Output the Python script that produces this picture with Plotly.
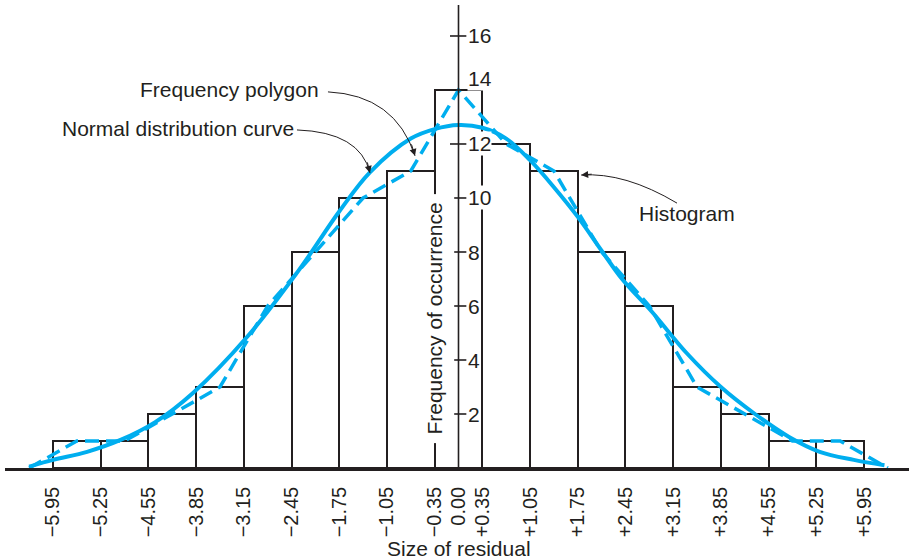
import plotly.graph_objects as go

# ---------------- data ----------------
bin_mids = [-5.6, -4.9, -4.2, -3.5, -2.8, -2.1, -1.4, -0.7, 0.0,
            0.7, 1.4, 2.1, 2.8, 3.5, 4.2, 4.9, 5.6]
frequencies = [1, 1, 2, 3, 6, 8, 10, 11, 14, 12, 11, 8, 6, 3, 2, 1, 1]
bin_width = 0.7

polygon_x = [-6.3] + bin_mids + [6.3]
polygon_y = [0] + frequencies + [0]

curve_x = [-6.30, -5.95, -5.45, -4.95, -4.45, -3.90, -3.10, -2.35, -1.75,
           -1.30, -0.70, -0.35, 0.00, 0.35, 0.70, 1.05, 1.40, 1.75, 2.10,
           2.40, 2.85, 3.35, 3.85, 4.35, 4.85, 5.30, 5.80, 6.25]
curve_y = [0.05, 0.30, 0.60, 1.05, 1.70, 2.77, 4.86, 7.30, 9.50,
           10.95, 12.2, 12.55, 12.7, 12.6, 12.2, 11.4, 10.4, 9.3, 8.05,
           7.0, 5.75, 4.25, 3.0, 2.0, 1.15, 0.60, 0.30, 0.10]

x_tick_vals = [-5.95, -5.25, -4.55, -3.85, -3.15, -2.45, -1.75, -1.05, -0.35, 0.0,
               0.35, 1.05, 1.75, 2.45, 3.15, 3.85, 4.55, 5.25, 5.95]
x_tick_text = ["\u22125.95", "\u22125.25", "\u22124.55", "\u22123.85", "\u22123.15",
               "\u22122.45", "\u22121.75", "\u22121.05", "\u22120.35", "0.00",
               "+0.35", "+1.05", "+1.75", "+2.45", "+3.15", "+3.85", "+4.55",
               "+5.25", "+5.95"]
y_tick_vals = [2, 4, 6, 8, 10, 12, 14, 16]
y_tick_text = ["2", "4", "6", "8", "10", "12", "14", "16"]

# ---------------- style ----------------
BLUE = "#00aeef"
INK = "#231f20"
FONT = "Liberation Sans, Arial, sans-serif"
X_RANGE = [-6.654, 6.610]
Y_RANGE = [0, 17.333]

fig = go.Figure()

fig.add_trace(go.Bar(
    x=bin_mids, y=frequencies, width=bin_width,
    marker=dict(color="white", line=dict(color=INK, width=2)),
    hoverinfo="skip", showlegend=False))

fig.add_trace(go.Scatter(
    x=curve_x, y=curve_y, mode="lines",
    line=dict(color=BLUE, width=4, shape="spline", smoothing=1),
    hoverinfo="skip", showlegend=False))

fig.add_trace(go.Scatter(
    x=polygon_x, y=polygon_y, mode="lines",
    line=dict(color=BLUE, width=3.5, dash="14px,7px"),
    hoverinfo="skip", showlegend=False))

shapes = []
# vertical frequency axis at x = 0
shapes.append(dict(type="line", xref="x", yref="y", x0=0, x1=0, y0=0, y1=17.15,
                   line=dict(color=INK, width=1.6), layer="above"))
# crossing tick marks
for v in y_tick_vals:
    shapes.append(dict(type="line", xref="x", yref="y", x0=-0.125, x1=0.115,
                       y0=v, y1=v, line=dict(color=INK, width=1.6), layer="above"))

# curved leader lines (quadratic paths)
leaders = [
    ((-1.915, 13.93), (-0.93, 13.81), (-0.638, 11.56), (-4, -13)),   # Frequency polygon
    ((-2.370, 12.52), (-1.445, 12.44), (-1.299, 10.93), (-3, -12)),  # Normal curve
    ((3.206, 9.81), (2.443, 10.96), (1.800, 10.85), (12, -1)),       # Histogram
]
annotations = []
for (p0, c, p1, off) in leaders:
    shapes.append(dict(type="path", xref="x", yref="y",
                       path=f"M {p0[0]},{p0[1]} Q {c[0]},{c[1]} {p1[0]},{p1[1]}",
                       line=dict(color=INK, width=1), layer="above"))
    annotations.append(dict(x=p1[0], y=p1[1], xref="x", yref="y", text="",
                            showarrow=True, ax=off[0], ay=off[1],
                            arrowhead=2, arrowsize=1.4, arrowwidth=1,
                            arrowcolor=INK, standoff=0))

# frequency tick labels with white background
for v, t in zip(y_tick_vals, y_tick_text):
    yy = 14.44 if v == 14 else v
    annotations.append(dict(x=0.13, y=yy, xref="x", yref="y", text=t,
                            xanchor="left", yanchor="middle", showarrow=False,
                            bgcolor="white", borderpad=0,
                            font=dict(family=FONT, size=21, color=INK)))

# axis titles
annotations.append(dict(x=-0.35, y=5.52, xref="x", yref="y",
                        text="Frequency of occurrence", textangle=-90,
                        showarrow=False, bgcolor="white", borderpad=8,
                        font=dict(family=FONT, size=21, color=INK)))
annotations.append(dict(x=0.0, y=-0.171, xref="x", yref="paper",
                        text="Size of residual", showarrow=False,
                        xanchor="center", yanchor="middle",
                        font=dict(family=FONT, size=21, color=INK)))

# callout labels
annotations.append(dict(x=-2.018, y=14.0, xref="x", yref="y", text="Frequency polygon",
                        xanchor="right", yanchor="middle", showarrow=False,
                        font=dict(family=FONT, size=21, color=INK)))
annotations.append(dict(x=-2.385, y=12.59, xref="x", yref="y",
                        text="Normal distribution curve",
                        xanchor="right", yanchor="middle", showarrow=False,
                        font=dict(family=FONT, size=21, color=INK)))
annotations.append(dict(x=2.619, y=9.44, xref="x", yref="y", text="Histogram",
                        xanchor="left", yanchor="middle", showarrow=False,
                        font=dict(family=FONT, size=21, color=INK)))

fig.update_layout(
    width=909, height=560,
    margin=dict(l=5, r=0, t=0, b=92),
    paper_bgcolor="white", plot_bgcolor="white",
    bargap=0,
    xaxis=dict(range=X_RANGE, tickvals=x_tick_vals, ticktext=x_tick_text,
               tickangle=-90, tickfont=dict(family=FONT, size=20, color=INK),
               showline=True, linecolor=INK, linewidth=2.5,
               showgrid=False, zeroline=False, ticks="", ticklabelstandoff=8,
               fixedrange=True),
    yaxis=dict(range=Y_RANGE, visible=False, showgrid=False, zeroline=False,
               fixedrange=True),
    shapes=shapes,
    annotations=annotations,
    showlegend=False,
)

fig.write_html("out.html", config={"displayModeBar": False},
               post_script="document.body.style.margin='0';document.body.style.overflow='hidden';")
